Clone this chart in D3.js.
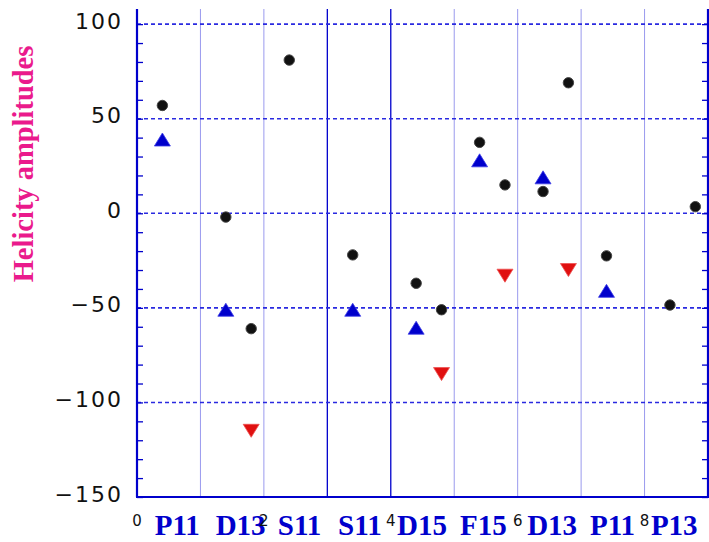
<!DOCTYPE html>
<html>
<head>
<meta charset="utf-8">
<script src="https://cdn.jsdelivr.net/npm/d3@7"></script>
<style>
  html, body { margin: 0; padding: 0; background: #fff; }
  svg { display: block; }
</style>
</head>
<body>
<svg id="chart" width="709" height="542"></svg>
<script>
// ---------- data ----------
const yTitle = "Helicity amplitudes";
const categories = ["P11", "D13", "S11", "S11", "D15", "F15", "D13", "P11", "P13"];
const categoryPos = [0.28, 1.24, 2.22, 3.17, 4.10, 5.09, 6.15, 7.14, 8.10];
const xTickValues = [0, 2, 4, 6, 8];
const yTickValues = [-150, -100, -50, 0, 50, 100];
const yMinorValues = d3.range(-150, 101, 10);
const gridLightX = [1, 2, 5, 6, 7, 8];
const gridDarkX = [3, 4];

const circleX = [0.4, 1.4, 1.8, 2.4, 3.4, 4.4, 4.8, 5.4, 5.8, 6.4, 6.8, 7.4, 8.4, 8.8];
const circleY = [57, -2, -61, 81, -22, -37, -51, 37.5, 15, 11.5, 69, -22.5, -48.5, 3.5];

const upX = [0.4, 1.4, 3.4, 4.4, 5.4, 6.4, 7.4];
const upY = [39, -51, -51, -60.5, 28, 19, -41];

const downX = [1.8, 4.8, 5.8, 6.8];
const downY = [-115, -85, -33, -30];

// ---------- layout ----------
const svg = d3.select("#chart");
const x = d3.scaleLinear().domain([0, 9]).range([137, 708]);
const y = d3.scaleLinear().domain([-150, 108]).range([497, 9]);
const axisBlue = "#0000cc";

// vertical grid lines
svg.append("g").selectAll("line").data(gridLightX).join("line")
  .attr("x1", d => x(d)).attr("x2", d => x(d))
  .attr("y1", y.range()[1]).attr("y2", y.range()[0])
  .attr("stroke", "#9a9aee").attr("stroke-width", 1);
svg.append("g").selectAll("line").data(gridDarkX).join("line")
  .attr("x1", d => x(d)).attr("x2", d => x(d))
  .attr("y1", y.range()[1]).attr("y2", y.range()[0])
  .attr("stroke", axisBlue).attr("stroke-width", 1.3);

// horizontal dashed grid lines
svg.append("g").selectAll("line").data(yTickValues.filter(v => v > -150)).join("line")
  .attr("x1", x.range()[0]).attr("x2", x.range()[1])
  .attr("y1", d => y(d)).attr("y2", d => y(d))
  .attr("stroke", "#2a2ae0").attr("stroke-width", 1.6)
  .attr("stroke-dasharray", "4,3");

// minor ticks, left (inward) and right (inward)
const leftTicks = svg.append("g").attr("transform", `translate(${x.range()[0]},0)`)
  .call(d3.axisRight(y).tickValues(yMinorValues).tickSize(6).tickFormat(""));
leftTicks.select(".domain").remove();
leftTicks.selectAll("line").attr("stroke", axisBlue).attr("stroke-width", 1.3);

const rightTicks = svg.append("g").attr("transform", `translate(${x.range()[1]},0)`)
  .call(d3.axisLeft(y).tickValues(yMinorValues).tickSize(6).tickFormat(""));
rightTicks.select(".domain").remove();
rightTicks.selectAll("line").attr("stroke", axisBlue).attr("stroke-width", 1.3);

// frame lines (left, right, bottom)
const frame = svg.append("g").attr("stroke", axisBlue).attr("stroke-width", 2.2).attr("fill", "none");
frame.append("line").attr("x1", x(0)).attr("x2", x(0)).attr("y1", y.range()[1]).attr("y2", y(-150));
frame.append("line").attr("x1", x(9)).attr("x2", x(9)).attr("y1", y.range()[1]).attr("y2", y(-150));
frame.append("line").attr("x1", x(0) - 1).attr("x2", x(9) + 1).attr("y1", y(-150)).attr("y2", y(-150));

// y tick labels
const yLab = svg.append("g").attr("transform", `translate(123,4)`)
  .call(d3.axisLeft(y).tickValues(yTickValues).tickSize(0).tickPadding(0));
yLab.select(".domain").remove();
yLab.selectAll("text")
  .attr("font-family", "DejaVu Sans").attr("font-size", 22)
  .attr("letter-spacing", "2px").attr("fill", "#111")
  .attr("dy", null).attr("text-anchor", "end");

// y title
svg.append("text")
  .attr("transform", "translate(33,164) rotate(-90)")
  .attr("text-anchor", "middle")
  .attr("font-family", "Liberation Serif").attr("font-weight", "bold")
  .attr("font-size", 28.5).attr("fill", "#ea1a8c")
  .text(yTitle);

// category labels
svg.append("g").selectAll("text").data(categories).join("text")
  .attr("x", (d, i) => x(categoryPos[i])).attr("y", 535)
  .attr("font-family", "Liberation Serif").attr("font-weight", "bold")
  .attr("font-size", 29).attr("fill", axisBlue)
  .text(d => d);

// x numeric tick labels
svg.append("g").selectAll("text").data(xTickValues).join("text")
  .attr("x", d => x(d)).attr("y", 526)
  .attr("text-anchor", "middle")
  .attr("font-family", "DejaVu Sans").attr("font-size", 15).attr("fill", "#111")
  .text(d => d);

// markers
const tri = (cx, cy, dir) => {
  const w = 8, h = 6.5;
  return dir > 0
    ? `M${cx - w},${cy + h}L${cx + w},${cy + h}L${cx},${cy - h}Z`
    : `M${cx - w},${cy - h}L${cx + w},${cy - h}L${cx},${cy + h}Z`;
};

svg.append("g").selectAll("path").data(upX).join("path")
  .attr("d", (d, i) => tri(x(d), y(upY[i]), 1))
  .attr("fill", "#0000cc").attr("stroke", "#3b3be6").attr("stroke-width", 0.8);

svg.append("g").selectAll("path").data(downX).join("path")
  .attr("d", (d, i) => tri(x(d), y(downY[i]), -1))
  .attr("fill", "#e01010").attr("stroke", "#ee5050").attr("stroke-width", 0.8);

svg.append("g").selectAll("circle").data(circleX).join("circle")
  .attr("cx", d => x(d)).attr("cy", (d, i) => y(circleY[i]))
  .attr("r", 5.2)
  .attr("fill", "#111").attr("stroke", "#444").attr("stroke-width", 1);
</script>
</body>
</html>
